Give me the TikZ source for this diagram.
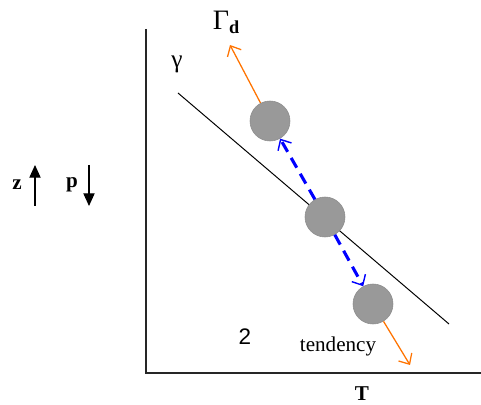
\documentclass[tikz,border=0pt]{standalone}
\usepackage{fontspec}
\setmainfont{Liberation Serif}
\newfontfamily\digitfont{Liberation Sans}
\usetikzlibrary{arrows.meta,positioning}

\begin{document}
\begin{tikzpicture}[
    x=0.025cm, y=-0.025cm,
    lbl/.style={inner sep=0pt, font=\fontsize{15}{18}\selectfont},
    parcel/.style={draw=black!45, fill=black!40, circle, minimum size=40*0.025cm, inner sep=0pt},
    axis/.style={line width=1.3pt, draw=black!85},
    force/.style={draw=orange!90!red, line width=0.9pt, -{Straight Barb[length=6pt, width=11pt]}},
    displace/.style={draw=blue, line width=2.2pt, dash pattern=on 8pt off 5pt, -{Straight Barb[length=6pt, width=11pt, line width=1pt]}},
    dirarrow/.style={line width=0.8pt, -{Triangle[length=9pt, width=8pt]}}
]
\useasboundingbox (0,0) rectangle (481,405);

% Axes
\coordinate (origin) at (146,373);
\coordinate (ytop) at (146,29);
\coordinate (xend) at (481,373);
\draw[axis] (ytop) -- (origin) -- (xend);
\node[lbl] (tlabel) at (362,394) {\textbf{T}};

% Environmental profile
\coordinate (envstart) at (178,93);
\coordinate (envend) at (449,324);
\draw[line width=0.7pt] (envstart) -- (envend);
\node[lbl, font=\fontsize{18}{22}\selectfont] (gamma) at (177,64) {γ};

% Parcels
\node[parcel] (upper) at (270,121) {};
\node[parcel] (middle) at (325,217) {};
\node[parcel] (lower) at (373,304) {};

% Dry adiabatic direction
\coordinate (gdtip) at (230,45);
\coordinate (gdend) at (410,365);
\draw[force] (upper) -- (gdtip);
\draw[force] (lower) -- (gdend);
\node[lbl, font=\fontsize{20}{22}\selectfont] (gammad) at (226,22)
    {Γ\raisebox{-0.3ex}{\fontsize{13}{15}\selectfont\textbf{d}}};

% Displacements
\draw[displace] (middle) -- (upper);
\draw[displace] (middle) -- (lower);

% Labels
\node[lbl, font=\fontsize{16}{18}\selectfont] (two) at (245,337) {\digitfont 2};
\node[lbl] (tend) at (338,346) {tendency};

% z and p
\node[lbl] (zlabel) at (17,185) {\textbf{z}};
\node[lbl] (plabel) at (72,185) {\textbf{p}};
\coordinate (zbot) at (35,206);
\coordinate (ztop) at (35,165);
\coordinate (ptop) at (89,165);
\coordinate (pbot) at (89,206);
\draw[dirarrow] (zbot) -- (ztop);
\draw[dirarrow] (ptop) -- (pbot);

\end{tikzpicture}
\end{document}
